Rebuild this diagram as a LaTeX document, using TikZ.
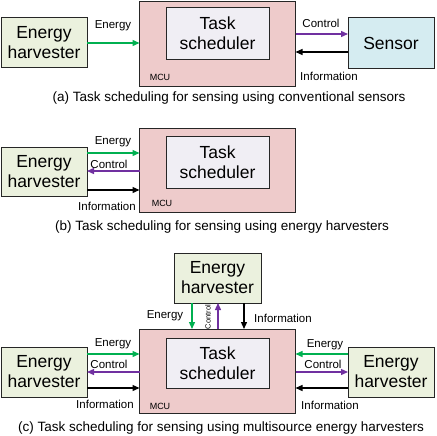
\documentclass[tikz,border=0pt]{standalone}
\usepackage{fontspec}
\setmainfont{Liberation Sans}
\usetikzlibrary{arrows.meta}
\definecolor{ehfill}{HTML}{EBF1DE}
\definecolor{mcufill}{HTML}{EECBCB}
\definecolor{tsfill}{HTML}{F0EEF4}
\definecolor{senfill}{HTML}{D5ECF1}
\definecolor{bord}{HTML}{262626}
\definecolor{egreen}{HTML}{00B050}
\definecolor{cpurple}{HTML}{7030A0}
\tikzset{
  box/.style={draw=bord, line width=1pt, outer sep=0pt, inner sep=0pt, align=center,
    font=\fontsize{17.5}{20}\selectfont},
  ehbox/.style={box, fill=ehfill, minimum width=86pt, minimum height=49pt},
  mcubox/.style={draw=bord, line width=1pt, outer sep=0pt, fill=mcufill, minimum width=156pt, minimum height=84pt},
  tsbox/.style={box, fill=tsfill, minimum width=103pt, minimum height=52pt},
  senbox/.style={box, fill=senfill, minimum width=86pt, minimum height=50pt},
  lbl/.style={font=\fontsize{11.5}{13}\selectfont, inner sep=0pt},
  mculbl/.style={font=\fontsize{9}{10}\selectfont, inner sep=0pt},
  captxt/.style={font=\fontsize{13.5}{16}\selectfont, inner sep=0pt},
  arrtip/.style={-{Triangle[length=7pt,width=6pt]}, line width=1.3pt},
  earrow/.style={arrtip, draw=egreen, color=egreen},
  carrow/.style={arrtip, draw=cpurple, color=cpurple},
  iarrow/.style={arrtip, draw=black, color=black},
}
\begin{document}
\begin{tikzpicture}[x=1pt,y=-1pt]
\useasboundingbox (0,0) rectangle (436,436);
% ---------- (a)
\node[ehbox] (ehA) at (44,42.5) {Energy\\harvester};
\node[mcubox] (mcuA) at (217.5,44) {};
\node[tsbox] (tsA) at (217.5,33.5) {Task\\scheduler};
\node[senbox] (senA) at (391,43) {Sensor};
\draw[earrow] ([yshift=-0.5pt]ehA.east) -- ([yshift=-0.5pt]ehA.east -| mcuA.west);
\draw[carrow] ([yshift=10pt]mcuA.east) -- ([yshift=10pt]mcuA.east -| senA.west);
\draw[iarrow] ([yshift=-8pt]mcuA.east -| senA.west) -- ([yshift=-8pt]mcuA.east);
\node[lbl] (eA) at (113,26) {Energy};
\node[lbl] (cA) at (321,23) {Control};
\node[lbl] (iA) at (329,76) {Information};
\node[mculbl] (mA) at (160,77) {MCU};
\node[captxt] (capA) at (229,98) {(a) Task scheduling for sensing using conventional sensors};
% ---------- (b)
\node[ehbox] (ehB) at (44,172) {Energy\\harvester};
\node[mcubox] (mcuB) at (217.5,170) {};
\node[tsbox] (tsB) at (217.5,162) {Task\\scheduler};
\draw[earrow] ([yshift=19pt]ehB.east) -- ([yshift=19pt]ehB.east -| mcuB.west);
\draw[carrow] ([yshift=1pt]ehB.east -| mcuB.west) -- ([yshift=1pt]ehB.east);
\draw[iarrow] ([yshift=-18pt]ehB.east) -- ([yshift=-18pt]ehB.east -| mcuB.west);
\node[lbl] (eB) at (113,142) {Energy};
\node[lbl] (cB) at (109,164) {Control};
\node[lbl] (iB) at (107,206) {Information};
\node[mculbl] (mB) at (162,203) {MCU};
\node[captxt] (capB) at (222,227) {(b) Task scheduling for sensing using energy harvesters};
% ---------- (c)
\node[ehbox, minimum width=87pt, minimum height=50pt] (ehT) at (217.5,278) {Energy\\harvester};
\node[mcubox] (mcuC) at (217.5,371) {};
\node[tsbox, minimum height=50pt] (tsC) at (217.5,363) {Task\\scheduler};
\node[ehbox, minimum height=50pt] (ehL) at (44,372) {Energy\\harvester};
\node[ehbox, minimum height=50pt] (ehR) at (391,372) {Energy\\harvester};
% top
\draw[earrow] ([xshift=-25.5pt]ehT.south) -- ([xshift=-25.5pt]ehT.south |- mcuC.north);
\draw[carrow] ([xshift=0.5pt]ehT.south |- mcuC.north) -- ([xshift=0.5pt]ehT.south);
\draw[iarrow] ([xshift=26.5pt]ehT.south) -- ([xshift=26.5pt]ehT.south |- mcuC.north);
\node[lbl] (eT) at (165,316) {Energy};
\node[lbl, rotate=90, font=\fontsize{7.5}{8}\selectfont] (cT) at (208,317) {Control};
\node[lbl] (iT) at (283,318) {Information};
% left
\draw[earrow] ([yshift=18pt]ehL.east) -- ([yshift=18pt]ehL.east -| mcuC.west);
\draw[carrow] ([yshift=0pt]ehL.east -| mcuC.west) -- ([yshift=0pt]ehL.east);
\draw[iarrow] ([yshift=-16pt]ehL.east) -- ([yshift=-16pt]ehL.east -| mcuC.west);
\node[lbl] (eL) at (113,344) {Energy};
\node[lbl] (cL) at (109,364) {Control};
\node[lbl] (iL) at (105,404) {Information};
% right
\draw[earrow] ([yshift=18pt]ehR.west) -- ([yshift=18pt]ehR.west -| mcuC.east);
\draw[carrow] ([yshift=0pt]ehR.west -| mcuC.east) -- ([yshift=0pt]ehR.west);
\draw[iarrow] ([yshift=-16pt]ehR.west) -- ([yshift=-16pt]ehR.west -| mcuC.east);
\node[lbl] (eR) at (325,345) {Energy};
\node[lbl] (cR) at (323,364) {Control};
\node[lbl] (iR) at (330,405) {Information};
\node[mculbl] (mC) at (160,406) {MCU};
\node[captxt] (capC) at (221,428) {(c) Task scheduling for sensing using multisource energy harvesters};
\end{tikzpicture}
\end{document}
